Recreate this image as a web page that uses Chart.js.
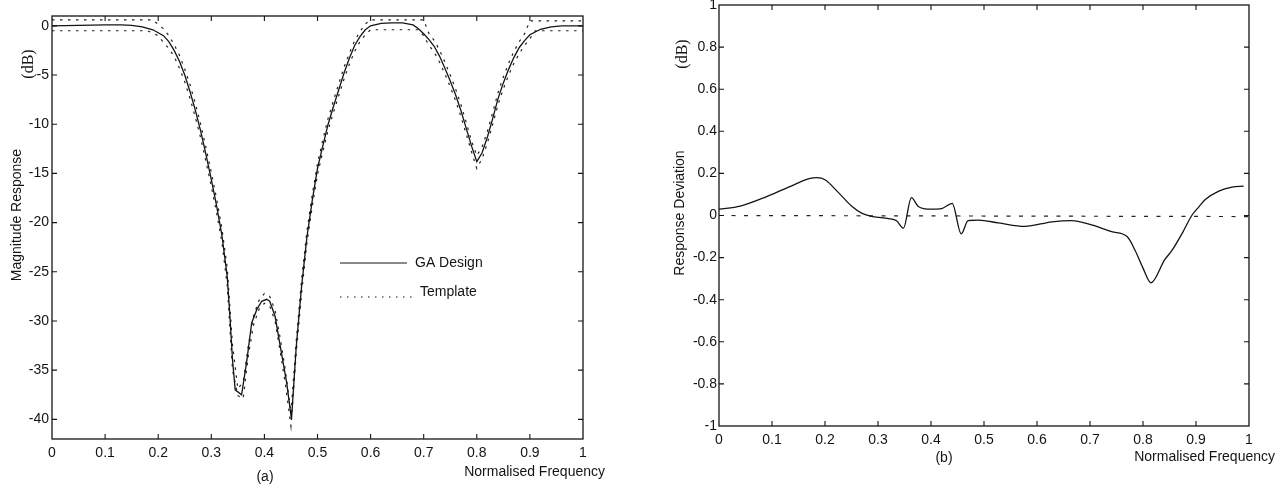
<!DOCTYPE html>
<html><head><meta charset="utf-8">
<script src="https://cdn.jsdelivr.net/npm/chart.js@4.4.1/dist/chart.umd.min.js"></script>
<style>
html,body{margin:0;padding:0;background:#fff;width:1285px;height:489px;overflow:hidden;position:relative}
#wa{position:absolute;left:0;top:0;width:640px;height:489px}
#wb{position:absolute;left:640px;top:-10px;width:645px;height:499px}
canvas{display:block}
</style></head><body>
<div id="wa"><canvas id="ca" width="640" height="489" style="width:640px;height:489px"></canvas></div>
<div id="wb"><canvas id="cb" width="645" height="499" style="width:645px;height:499px"></canvas></div>
<script>
// ---------- data ----------
const freqTicks = [0,0.1,0.2,0.3,0.4,0.5,0.6,0.7,0.8,0.9,1];
const freqTickLabels = ['0','0.1','0.2','0.3','0.4','0.5','0.6','0.7','0.8','0.9','1'];
const magTicks = [0,-5,-10,-15,-20,-25,-30,-35,-40];
const magTickLabels = ['0','-5','-10','-15','-20','-25','-30','-35','-40'];
const devTicks = [-1,-0.8,-0.6,-0.4,-0.2,0,0.2,0.4,0.6,0.8,1];
const devTickLabels = ['-1','-0.8','-0.6','-0.4','-0.2','0','0.2','0.4','0.6','0.8','1'];

// (a) GA design magnitude response (dB)
const gaFreq = [0,0.05,0.10,0.13,0.15,0.17,0.19,0.20,0.21,0.22,0.23,0.24,0.25,0.26,0.27,0.28,0.29,0.30,0.31,0.32,0.33,0.335,0.34,0.345,0.357,0.367,0.376,0.386,0.395,0.404,0.41,0.42,0.43,0.442,0.451,0.46,0.47,0.48,0.49,0.50,0.51,0.52,0.53,0.54,0.55,0.56,0.57,0.58,0.59,0.60,0.62,0.64,0.66,0.68,0.69,0.70,0.71,0.72,0.73,0.74,0.75,0.76,0.77,0.78,0.79,0.80,0.81,0.82,0.83,0.84,0.85,0.86,0.87,0.88,0.89,0.90,0.92,0.94,0.96,1.00];
const gaDb = [0,0.05,0.1,0.1,0.05,-0.1,-0.4,-0.7,-1.0,-1.6,-2.5,-3.6,-5.0,-6.7,-8.6,-10.7,-13.1,-15.6,-18.3,-21.3,-25.5,-29.5,-34,-37.0,-37.5,-34,-30.2,-28.8,-28,-27.8,-28,-29.5,-32.6,-36.3,-40,-32.6,-26.5,-21.5,-17.8,-14.5,-12.2,-10,-8.2,-6.5,-4.8,-3.3,-2.0,-1.1,-0.4,0.0,0.25,0.3,0.3,0.1,-0.3,-0.8,-1.4,-2.1,-3.1,-4.3,-5.6,-7.0,-8.6,-10.4,-12.2,-13.8,-12.9,-11.3,-9.4,-7.4,-5.8,-4.4,-3.2,-2.2,-1.5,-0.9,-0.35,-0.1,0.0,0.0];

// (a) template, upper and lower bounds (dB)
const tplHiFreq = [0,0.19,0.21,0.22,0.23,0.24,0.25,0.26,0.27,0.28,0.29,0.30,0.31,0.32,0.33,0.34,0.35,0.36,0.37,0.38,0.39,0.40,0.41,0.42,0.43,0.44,0.45,0.46,0.47,0.48,0.49,0.50,0.51,0.52,0.53,0.54,0.55,0.56,0.57,0.58,0.59,0.60,0.70,0.71,0.72,0.73,0.74,0.75,0.76,0.77,0.78,0.79,0.80,0.81,0.82,0.83,0.84,0.85,0.86,0.87,0.88,0.89,0.90,1.0];
const tplHiDb = [0.6,0.6,-0.3,-1.0,-1.9,-3.0,-4.4,-6.0,-7.9,-10.0,-12.4,-14.9,-17.6,-20.6,-24.6,-32.5,-36.9,-36.2,-32.4,-29.4,-27.9,-27.2,-27.5,-28.9,-31.8,-35.2,-39.4,-32.0,-25.8,-20.9,-17.2,-14.0,-11.6,-9.4,-7.6,-5.9,-4.2,-2.8,-1.5,-0.6,0.2,0.6,0.6,-0.8,-1.5,-2.5,-3.7,-5.0,-6.4,-8.0,-9.8,-11.7,-13.2,-12.3,-10.7,-8.8,-6.8,-5.2,-3.8,-2.6,-1.6,-0.8,0.5,0.5];
const tplLoFreq = [0,0.18,0.20,0.21,0.22,0.23,0.24,0.25,0.26,0.27,0.28,0.29,0.30,0.31,0.32,0.33,0.34,0.35,0.36,0.37,0.38,0.39,0.40,0.41,0.42,0.43,0.44,0.45,0.46,0.47,0.48,0.49,0.50,0.51,0.52,0.53,0.54,0.55,0.56,0.57,0.58,0.59,0.60,0.61,0.69,0.70,0.71,0.72,0.73,0.74,0.75,0.76,0.77,0.78,0.79,0.80,0.81,0.82,0.83,0.84,0.85,0.86,0.87,0.88,0.89,0.90,0.91,1.0];
const tplLoDb = [-0.5,-0.5,-1.0,-1.7,-2.3,-3.1,-4.3,-5.7,-7.4,-9.3,-11.4,-13.8,-16.3,-19.0,-22.0,-26.4,-35,-37.6,-37.9,-33.4,-30.3,-28.8,-28.2,-28.5,-30,-33.2,-36.6,-40.7,-33.2,-27.2,-22.1,-18.4,-15.1,-12.8,-10.6,-8.8,-7.1,-5.4,-3.9,-2.6,-1.6,-0.9,-0.4,-0.4,-0.4,-1.0,-2.0,-2.7,-3.7,-4.9,-6.2,-7.6,-9.2,-11.0,-12.8,-14.5,-13.5,-11.9,-10.0,-8.0,-6.4,-5.0,-3.8,-2.8,-2.0,-1.3,-0.5,-0.5];

// (b) response deviation (dB)
const devFreq = [0,0.04,0.09,0.136,0.17,0.185,0.2,0.225,0.25,0.27,0.29,0.32,0.335,0.348,0.363,0.376,0.40,0.42,0.44,0.457,0.47,0.49,0.527,0.577,0.628,0.665,0.703,0.741,0.77,0.785,0.80,0.815,0.841,0.855,0.875,0.892,0.905,0.917,0.943,0.968,0.99];
const devDb = [0.03,0.045,0.09,0.14,0.175,0.18,0.17,0.11,0.045,0.01,-0.005,-0.015,-0.025,-0.06,0.085,0.043,0.03,0.033,0.058,-0.087,-0.024,-0.022,-0.035,-0.052,-0.03,-0.024,-0.045,-0.077,-0.1,-0.165,-0.25,-0.32,-0.21,-0.165,-0.08,0.0,0.04,0.075,0.116,0.135,0.14];
const refFreq = [0,1];
const refDb = [0,-0.005];

// ---------- helpers ----------
const SANS = '"Liberation Sans", Arial, Helvetica, sans-serif';
const SERIF = '"Liberation Serif", "Times New Roman", serif';
const INK = '#141414';
const pts = (xs, ys) => xs.map((x,i)=>({x, y: ys[i]}));

const frame = {
  id: 'frame',
  afterDraw(chart, args, o) {
    const {ctx, chartArea: a, scales: {x, y}} = chart;
    ctx.save();
    ctx.strokeStyle = INK; ctx.lineWidth = 1.3;
    ctx.strokeRect(a.left, a.top, a.right - a.left, a.bottom - a.top);
    const L = 5;
    ctx.lineWidth = 1.1;
    ctx.beginPath();
    x.ticks.forEach(t => {
      const p = x.getPixelForValue(t.value);
      if (p > a.left + 1 && p < a.right - 1) {
        ctx.moveTo(p, a.bottom); ctx.lineTo(p, a.bottom - L);
        ctx.moveTo(p, a.top); ctx.lineTo(p, a.top + L);
      }
    });
    y.ticks.forEach(t => {
      const p = y.getPixelForValue(t.value);
      if (p > a.top + 1 && p < a.bottom - 1) {
        ctx.moveTo(a.left, p); ctx.lineTo(a.left + L, p);
        ctx.moveTo(a.right, p); ctx.lineTo(a.right - L, p);
      }
    });
    ctx.stroke();
    ctx.fillStyle = INK;
    (o.texts || []).forEach(t => {
      ctx.save();
      ctx.font = t.font;
      ctx.textAlign = t.align || 'center';
      ctx.textBaseline = 'middle';
      ctx.translate(t.x, t.y);
      if (t.rot) ctx.rotate(t.rot);
      ctx.fillText(t.text, 0, 0);
      ctx.restore();
    });
    (o.legend || []).forEach(l => {
      ctx.save();
      ctx.strokeStyle = INK; ctx.lineWidth = 1.2;
      ctx.setLineDash(l.dash || []);
      ctx.beginPath(); ctx.moveTo(l.x0, l.y); ctx.lineTo(l.x1, l.y); ctx.stroke();
      ctx.restore();
    });
    ctx.restore();
  }
};

function xScale(h) {
  return {
    type: 'linear', min: 0, max: 1,
    afterBuildTicks: s => { s.ticks = freqTicks.map(v => ({value: v})); },
    afterFit: s => { s.height = h; },
    ticks: { callback: (v, i) => freqTickLabels[i], font: {family: SANS, size: 14}, color: INK, padding: 6, maxRotation: 0, autoSkip: false },
    grid: { display: false, drawTicks: false },
    border: { display: false }
  };
}
function yScale(min, max, tv, tl, w, pad) {
  return {
    type: 'linear', min, max,
    afterBuildTicks: s => { s.ticks = tv.map(v => ({value: v})); },
    afterFit: s => { s.width = w; },
    ticks: { callback: (v, i) => tl[i], font: {family: SANS, size: 14}, color: INK, padding: pad, autoSkip: false },
    grid: { display: false, drawTicks: false },
    border: { display: false }
  };
}

// ---------- chart (a) ----------
new Chart(document.getElementById('ca'), {
  type: 'line',
  data: { datasets: [
    { label: 'GA Design', data: pts(gaFreq, gaDb), borderColor: INK, borderWidth: 1.3, pointRadius: 0, tension: 0 },
    { label: 'Template', data: pts(tplHiFreq, tplHiDb), borderColor: '#222', borderWidth: 1.2, borderDash: [2.5, 5.5], pointRadius: 0, tension: 0 },
    { label: 'Template', data: pts(tplLoFreq, tplLoDb), borderColor: '#222', borderWidth: 1.2, borderDash: [2.5, 5.5], pointRadius: 0, tension: 0 }
  ]},
  options: {
    responsive: false, animation: false, devicePixelRatio: 1,
    layout: { padding: { top: 16, right: 57, left: 0, bottom: 0 } },
    scales: { x: xScale(50), y: yScale(-42, 1, magTicks, magTickLabels, 52, 3) },
    plugins: {
      legend: { display: false }, tooltip: { enabled: false },
      frame: {
        texts: [
          { text: '(dB)', x: 29, y: 64, rot: -Math.PI/2, font: '16px ' + SERIF },
          { text: 'Magnitude Response', x: 17, y: 215, rot: -Math.PI/2, font: '14px ' + SANS },
          { text: 'Normalised Frequency', x: 605, y: 472, align: 'right', font: '14px ' + SANS },
          { text: '(a)', x: 265, y: 477, font: '14px ' + SANS },
          { text: 'GA Design', x: 415, y: 263, align: 'left', font: '14px ' + SANS },
          { text: 'Template', x: 420, y: 292, align: 'left', font: '14px ' + SANS }
        ],
        legend: [
          { x0: 340, x1: 407, y: 263 },
          { x0: 340, x1: 414, y: 297, dash: [1.5, 5.5] }
        ]
      }
    }
  },
  plugins: [frame]
});

// ---------- chart (b) ----------
new Chart(document.getElementById('cb'), {
  type: 'line',
  data: { datasets: [
    { label: 'Deviation', data: pts(devFreq, devDb), borderColor: INK, borderWidth: 1.3, pointRadius: 0, tension: 0.3, cubicInterpolationMode: 'monotone' },
    { label: 'Zero', data: pts(refFreq, refDb), borderColor: '#222', borderWidth: 1.2, borderDash: [4, 8.5], pointRadius: 0, tension: 0 }
  ]},
  options: {
    responsive: false, animation: false, devicePixelRatio: 1,
    layout: { padding: { top: 15, right: 36, left: 0, bottom: 0 } },
    scales: { x: xScale(63), y: yScale(-1, 1, devTicks, devTickLabels, 79, 2) },
    plugins: {
      legend: { display: false }, tooltip: { enabled: false },
      frame: {
        texts: [
          { text: '(dB)', x: 43, y: 64, rot: -Math.PI/2, font: '16px ' + SERIF },
          { text: 'Response Deviation', x: 40, y: 223, rot: -Math.PI/2, font: '14px ' + SANS },
          { text: 'Normalised Frequency', x: 635, y: 467, align: 'right', font: '14px ' + SANS },
          { text: '(b)', x: 304, y: 468, font: '14px ' + SANS }
        ]
      }
    }
  },
  plugins: [frame]
});
</script>
</body></html>
